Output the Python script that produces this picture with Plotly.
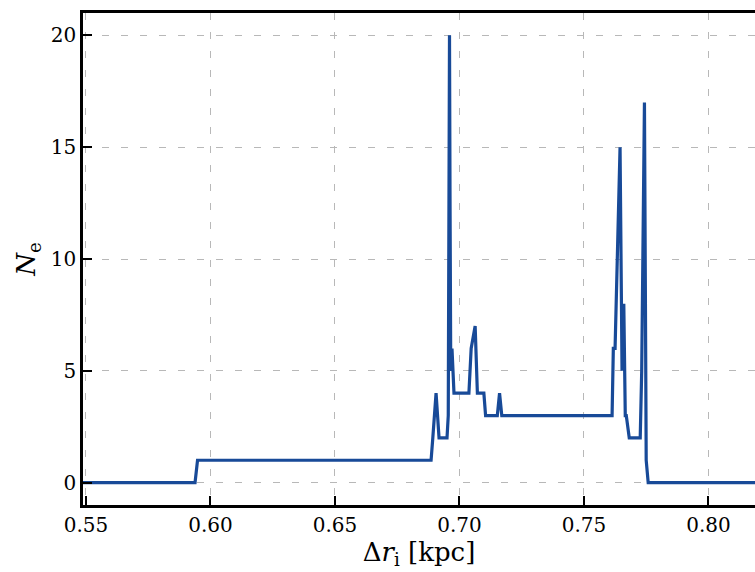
import plotly.graph_objects as go

# Data
delta_r = [0.540, 0.5938, 0.5948, 0.6886, 0.6893, 0.6906, 0.6918, 0.6950, 0.6955,
           0.6960, 0.6962, 0.6965, 0.6970, 0.6978, 0.7038, 0.7047, 0.7063, 0.7072,
           0.7098, 0.7105, 0.7152, 0.7161, 0.7170, 0.7613, 0.7618, 0.7625, 0.7645,
           0.7653, 0.7660, 0.7666, 0.7670, 0.7682, 0.7726, 0.7732, 0.7743, 0.7750,
           0.7758, 0.830]
n_e = [0, 0, 1, 1, 2, 4, 2, 2, 3,
       20, 13, 5, 6, 4, 4, 6, 7, 4,
       4, 3, 3, 4, 3, 3, 6, 6, 15,
       5, 8, 3, 3, 2, 2, 5, 17, 1,
       0, 0]

x_ticks = [0.55, 0.60, 0.65, 0.70, 0.75, 0.80]
x_tick_labels = ["0.55", "0.60", "0.65", "0.70", "0.75", "0.80"]
y_ticks = [0, 5, 10, 15, 20]
y_tick_labels = ["0", "5", "10", "15", "20"]

fig = go.Figure()
fig.add_trace(go.Scatter(
    x=delta_r, y=n_e, mode="lines",
    line=dict(color="#184a98", width=3.2),
    showlegend=False,
))

font_family = "DejaVu Serif"
grid = dict(showgrid=True, gridcolor="#b8b8b8", gridwidth=1.2, griddash="7px,12px")

fig.update_layout(
    width=755, height=572,
    margin=dict(l=83, r=0, t=13, b=67, autoexpand=False),
    paper_bgcolor="white", plot_bgcolor="white",
    font=dict(family=font_family, color="black"),
    xaxis=dict(
        range=[0.5488, 0.8187], tickvals=x_ticks, ticktext=x_tick_labels,
        ticks="inside", ticklen=9, tickwidth=2, tickcolor="black",
        showline=True, linecolor="black", linewidth=2.5, mirror=True,
        zeroline=False, tickfont=dict(size=20, family=font_family),
        automargin=False,
        title=dict(text="Δ<i>r</i><sub>i</sub> [kpc]", font=dict(size=26, family=font_family), standoff=2),
        **grid,
    ),
    yaxis=dict(
        range=[-1, 21], tickvals=y_ticks, ticktext=y_tick_labels,
        ticks="inside", ticklen=9, tickwidth=2, tickcolor="black",
        showline=True, linecolor="black", linewidth=2.5, mirror=False,
        zeroline=False, tickfont=dict(size=20, family=font_family),
        automargin=False,
        title=dict(text="<i>N</i><sub>e</sub>", font=dict(size=26, family=font_family), standoff=8),
        **grid,
    ),
)

fig.write_html(
    "out.html",
    config={"displayModeBar": False},
    post_script="document.body.style.margin='0';document.body.style.overflow='hidden';",
)
